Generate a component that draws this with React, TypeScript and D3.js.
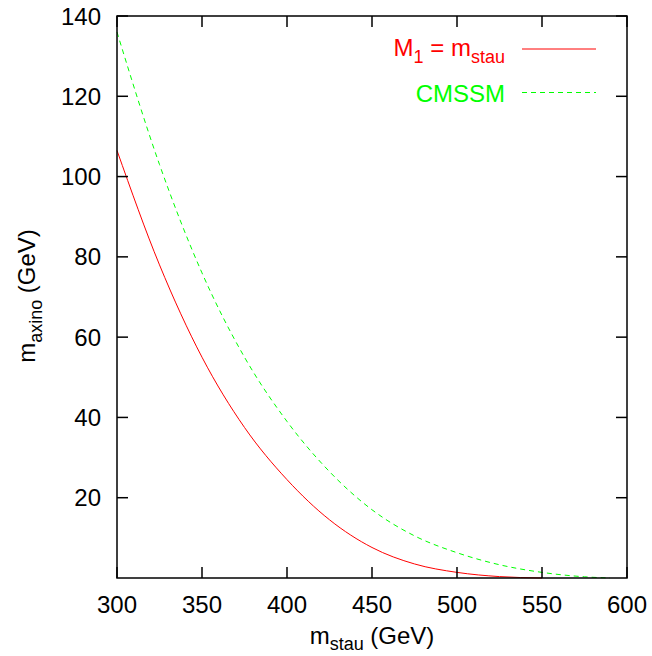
import React from "react";
import * as d3 from "d3";

const xTicks = [300, 350, 400, 450, 500, 550, 600];
const yTicks = [20, 40, 60, 80, 100, 120, 140];

const redX = [300, 325, 350, 375, 400, 425, 450, 475, 500, 525, 550];
const redY = [106.5, 78, 55, 37.5, 24.5, 14.5, 7.6, 3.5, 1.4, 0.35, 0];

const greenX = [300, 325, 350, 375, 400, 425, 450, 475, 500, 525, 550, 575, 590];
const greenY = [136, 103, 76, 55, 39, 26.5, 17, 10.5, 6.3, 3.3, 1.4, 0.3, 0];

const W = 652;
const H = 656;
const L = 117, R = 627, T = 16, B = 578;
const FONT = "'Liberation Sans', Arial, Helvetica, sans-serif";
const FS = 24;

export default function App() {
  const x = d3.scaleLinear().domain([300, 600]).range([L, R]);
  const y = d3.scaleLinear().domain([0, 140]).range([B, T]);
  const line = d3
    .line<[number, number]>()
    .x((d) => x(d[0]))
    .y((d) => y(d[1]))
    .curve(d3.curveMonotoneX);
  const redPath = line(redX.map((v, i) => [v, redY[i]]) as [number, number][]) || "";
  const greenPath = line(greenX.map((v, i) => [v, greenY[i]]) as [number, number][]) || "";
  const tl = 11;

  return (
    <svg width={W} height={H} style={{ position: "absolute", left: 0, top: 0 }} fontFamily={FONT}>
      <rect x={0} y={0} width={W} height={H} fill="#fff" />
      <path d={greenPath} fill="none" stroke="#00ff00" strokeWidth={1} strokeDasharray="5,4" />
      <path d={redPath} fill="none" stroke="#ff0000" strokeWidth={1} />
      {xTicks.map((t) => (
        <g key={"x" + t}>
          <line x1={x(t)} x2={x(t)} y1={B} y2={B - tl} stroke="#000" strokeWidth={1.5} />
          <line x1={x(t)} x2={x(t)} y1={T} y2={T + tl} stroke="#000" strokeWidth={1.5} />
          <text x={x(t)} y={613} fontSize={FS} textAnchor="middle" fill="#000">{t}</text>
        </g>
      ))}
      {yTicks.map((t) => (
        <g key={"y" + t}>
          <line x1={L} x2={L + tl} y1={y(t)} y2={y(t)} stroke="#000" strokeWidth={1.5} />
          <line x1={R} x2={R - tl} y1={y(t)} y2={y(t)} stroke="#000" strokeWidth={1.5} />
          <text x={101} y={y(t) + 8.5} fontSize={FS} textAnchor="end" fill="#000">{t}</text>
        </g>
      ))}
      <rect x={L} y={T} width={R - L} height={B - T} fill="none" stroke="#000" strokeWidth={1.5} />
      <text x={505} y={56} fontSize={FS} textAnchor="end" fill="#ff0000">
        M<tspan fontSize={18} dy={7}>1</tspan>
        <tspan dy={-7}> = m</tspan>
        <tspan fontSize={18} dy={7}>stau</tspan>
      </text>
      <line x1={522} x2={596} y1={49} y2={49} stroke="#ff0000" strokeWidth={1} />
      <text x={505} y={102} fontSize={FS} textAnchor="end" fill="#00ff00">CMSSM</text>
      <line x1={522} x2={596} y1={92.5} y2={92.5} stroke="#00ff00" strokeWidth={1} strokeDasharray="5,4" />
      <text x={372} y={644} fontSize={FS} textAnchor="middle" fill="#000">
        m<tspan fontSize={18} dy={6}>stau</tspan>
        <tspan dy={-6}> (GeV)</tspan>
      </text>
      <text transform="translate(35,296) rotate(-90)" fontSize={FS} textAnchor="middle" fill="#000">
        m<tspan fontSize={18} dy={7}>axino</tspan>
        <tspan dy={-7}> (GeV)</tspan>
      </text>
    </svg>
  );
}
